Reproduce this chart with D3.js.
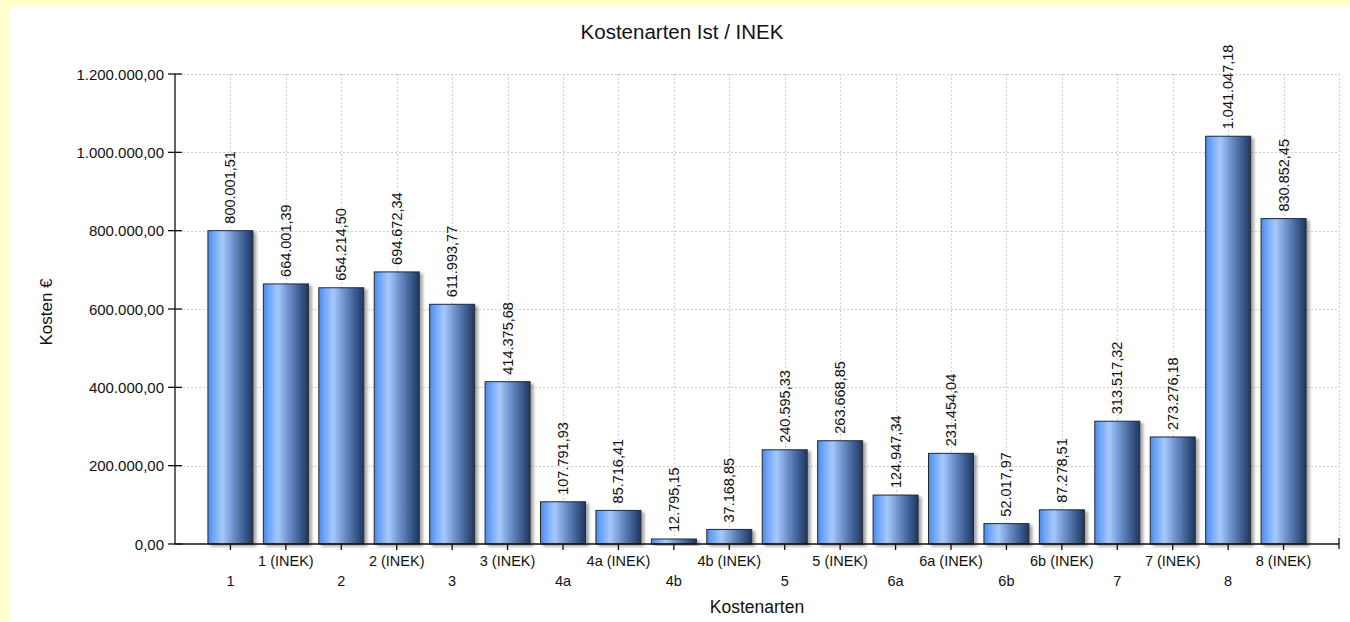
<!DOCTYPE html>
<html><head><meta charset="utf-8">
<script src="https://cdn.jsdelivr.net/npm/d3@7"></script>
<style>
html,body{margin:0;padding:0;background:#ffffcc;}
svg{display:block;}
text{font-family:"Liberation Sans",Arial,sans-serif;fill:#111;}
</style></head>
<body><svg id="c" width="1350" height="622"></svg>
<script>
const categories = ["1","1 (INEK)","2","2 (INEK)","3","3 (INEK)","4a","4a (INEK)","4b","4b (INEK)","5","5 (INEK)","6a","6a (INEK)","6b","6b (INEK)","7","7 (INEK)","8","8 (INEK)"];
const values = [800001.51,664001.39,654214.50,694672.34,611993.77,414375.68,107791.93,85716.41,12795.15,37168.85,240595.33,263668.85,124947.34,231454.04,52017.97,87278.51,313517.32,273276.18,1041047.18,830852.45];
const yTicks = [0,200000,400000,600000,800000,1000000,1200000];
const titleText = "Kostenarten Ist / INEK";
const xTitle = "Kostenarten";
const yTitle = "Kosten €";

const svg = d3.select("#c");
svg.append("rect").attr("x",10).attr("y",7).attr("width",1340).attr("height",615).attr("fill","#fff");

const de = d3.formatLocale({decimal:",",thousands:".",grouping:[3],currency:["","€"]});
const fmt = de.format(",.2f");

const pLeft=175, pRight=1339, pTop=74, pBottom=544;
const x = d3.scaleLinear().domain([0,categories.length+1]).range([pLeft,pRight]);
const y = d3.scaleLinear().domain([0,1200000]).range([pBottom,pTop]);
const bw = 45;

const defs = svg.append("defs");
const g = defs.append("linearGradient").attr("id","bar").attr("x1","0").attr("x2","1").attr("y1","0").attr("y2","0");
[[0,"#4a87e8"],[0.1,"#68a2f6"],[0.32,"#a6c8fc"],[0.55,"#6f94cd"],[0.8,"#3e5e93"],[1,"#1f375f"]].forEach(s=>g.append("stop").attr("offset",s[0]).attr("stop-color",s[1]));
const f = defs.append("filter").attr("id","sh").attr("x","-20%").attr("y","-20%").attr("width","150%").attr("height","150%");
f.append("feGaussianBlur").attr("in","SourceAlpha").attr("stdDeviation",1.5).attr("result","b");
f.append("feOffset").attr("in","b").attr("dx",3).attr("dy",2).attr("result","o");
f.append("feComponentTransfer").attr("in","o").attr("result","o2").append("feFuncA").attr("type","linear").attr("slope",0.35);
const m = f.append("feMerge"); m.append("feMergeNode").attr("in","o2"); m.append("feMergeNode").attr("in","SourceGraphic");

// grid
const grid = svg.append("g").attr("stroke","#cfcfcf").attr("stroke-dasharray","2,2").attr("stroke-width",1);
yTicks.forEach(t=>{ if(t>0) grid.append("line").attr("x1",pLeft).attr("x2",pRight).attr("y1",Math.round(y(t))+0.5).attr("y2",Math.round(y(t))+0.5); });
d3.range(1,categories.length+2).forEach(i=>grid.append("line").attr("x1",Math.round(x(i))+0.5).attr("x2",Math.round(x(i))+0.5).attr("y1",pTop).attr("y2",pBottom));

// bars
svg.append("g").selectAll("rect").data(values).join("rect")
  .attr("x",(d,i)=>x(i+1)-bw/2).attr("width",bw)
  .attr("y",d=>y(d)).attr("height",d=>pBottom-y(d))
  .attr("fill","url(#bar)").attr("stroke","#2a2a2a").attr("stroke-width",1)
  .attr("filter","url(#sh)");

// value labels
svg.append("g").selectAll("text").data(values).join("text")
  .attr("transform",(d,i)=>`translate(${x(i+1)},${y(d)-7}) rotate(-90)`)
  .attr("dominant-baseline","central").attr("font-size",14.5)
  .text(d=>fmt(d));

// axes
const ax = svg.append("g").attr("stroke","#111").attr("stroke-width",1.3);
ax.append("line").attr("x1",pLeft).attr("x2",pLeft).attr("y1",pTop).attr("y2",pBottom);
ax.append("line").attr("x1",pLeft).attr("x2",pRight).attr("y1",pBottom).attr("y2",pBottom);
yTicks.forEach(t=>ax.append("line").attr("x1",pLeft-7).attr("x2",pLeft+7).attr("y1",y(t)).attr("y2",y(t)));
categories.forEach((c,i)=>ax.append("line").attr("x1",x(i+1)).attr("x2",x(i+1)).attr("y1",pBottom).attr("y2",pBottom+6));
ax.append("line").attr("x1",pRight).attr("x2",pRight).attr("y1",pBottom-6).attr("y2",pBottom+5);

svg.append("g").selectAll("text").data(yTicks).join("text")
  .attr("x",pLeft-11).attr("y",d=>y(d)).attr("text-anchor","end").attr("dominant-baseline","central")
  .attr("font-size",15).text(d=>fmt(d));

svg.append("g").selectAll("text").data(categories).join("text")
  .attr("x",(d,i)=>x(i+1)).attr("y",(d,i)=>i%2===0?581:561)
  .attr("text-anchor","middle").attr("dominant-baseline","central")
  .attr("font-size",14.5).text(d=>d);

svg.append("text").attr("x",682).attr("y",31).attr("text-anchor","middle").attr("dominant-baseline","central")
  .attr("font-size",20.5).text(titleText);
svg.append("text").attr("x",757).attr("y",607).attr("text-anchor","middle").attr("dominant-baseline","central")
  .attr("font-size",17.5).text(xTitle);
svg.append("text").attr("transform","translate(46,312) rotate(-90)").attr("text-anchor","middle").attr("dominant-baseline","central")
  .attr("font-size",17).text(yTitle);
</script></body></html>
